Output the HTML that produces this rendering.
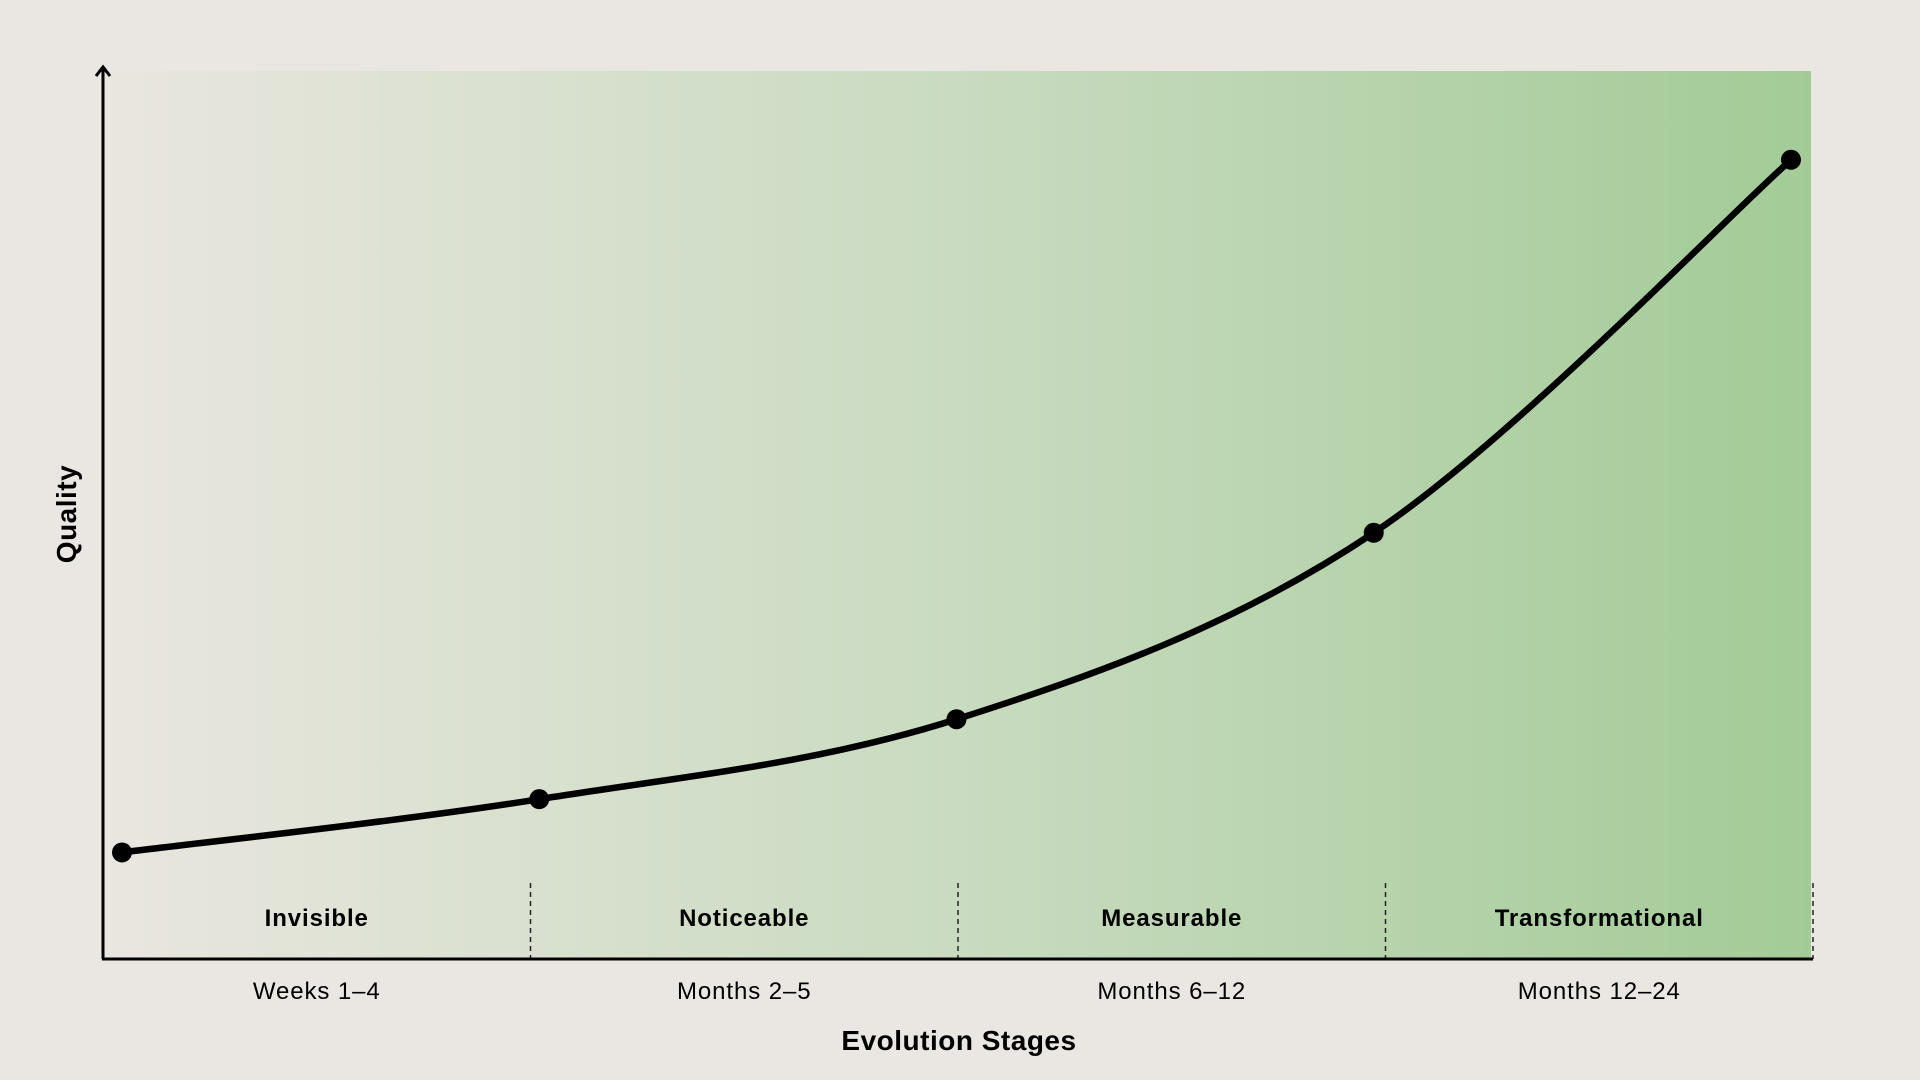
<!DOCTYPE html>
<html><head><meta charset="utf-8"><style>
html,body{margin:0;padding:0;background:#eae7e2;}
svg{display:block;font-family:"Liberation Sans",sans-serif;}
</style></head><body>
<svg id="chart" width="1920" height="1080" viewBox="0 0 1920 1080" xmlns="http://www.w3.org/2000/svg">
<defs><linearGradient id="bgGrad" x1="0" x2="1" y1="0" y2="0">
<stop offset="0" stop-color="#e9e6df"/><stop offset="0.5" stop-color="#c9dbc0"/><stop offset="1" stop-color="#a3cb97"/></linearGradient></defs>
<rect x="103" y="71" width="1708" height="888" fill="url(#bgGrad)"/>
<g id="marks"></g>
<line x1="103" y1="959" x2="103" y2="68" stroke="#000" stroke-width="3"/>
<path d="M96,76 L103,67 L110,76" fill="none" stroke="#000" stroke-width="3"/>
<line x1="102" y1="959" x2="1813" y2="959" stroke="#000" stroke-width="3"/>
<text transform="translate(76,514) rotate(-90)" text-anchor="middle" font-size="28" font-weight="bold" letter-spacing="0.5">Quality</text>
<text x="959" y="1050" text-anchor="middle" font-size="28" font-weight="bold" letter-spacing="0.5">Evolution Stages</text>
</svg>
<script>
const stages = ["Invisible", "Noticeable", "Measurable", "Transformational"];
const periods = ["Weeks 1–4", "Months 2–5", "Months 6–12", "Months 12–24"];
const pointIndex = [0, 1, 2, 3, 4];
const qualityValues = [12, 18, 27, 48, 90];

const svg = document.getElementById('chart');
const g = document.getElementById('marks');
const NS = 'http://www.w3.org/2000/svg';
const xBandStart = 103, xBandEnd = 1813;
const bandW = (xBandEnd - xBandStart) / stages.length;
function xPoint(i) { return 122 + i * (1791 - 122) / (pointIndex.length - 1); }
function yScale(v) { return 959 - v * 8.88; }

stages.forEach((s, i) => {
  const x1 = xBandStart + bandW * (i + 1);
  const dl = document.createElementNS(NS, 'line');
  
  
  dl.setAttribute('x1', x1); dl.setAttribute('x2', x1);
  dl.setAttribute('y1', 883); dl.setAttribute('y2', 959);
  dl.setAttribute('stroke', '#222'); dl.setAttribute('stroke-width', '1.5');
  dl.setAttribute('stroke-dasharray', '5,4');
  g.appendChild(dl);
  const cx = xBandStart + bandW * (i + 0.5);
  const t = document.createElementNS(NS, 'text');
  
  
  t.setAttribute('x', cx); t.setAttribute('y', 926);
  t.setAttribute('text-anchor', 'middle'); t.setAttribute('font-size', '24'); t.setAttribute('font-weight', 'bold');
  t.setAttribute('letter-spacing', '0.9');
  t.textContent = s;
  g.appendChild(t);
  const p = document.createElementNS(NS, 'text');
  
  
  p.setAttribute('x', cx); p.setAttribute('y', 999);
  p.setAttribute('text-anchor', 'middle'); p.setAttribute('font-size', '24');
  p.setAttribute('letter-spacing', '0.9');
  p.textContent = periods[i];
  g.appendChild(p);
});

const pts = pointIndex.map((d, i) => [xPoint(d), yScale(qualityValues[i])]);
let d = 'M' + pts[0][0] + ',' + pts[0][1];
for (let i = 0; i < pts.length - 1; i++) {
  const p0 = pts[Math.max(i - 1, 0)], p1 = pts[i], p2 = pts[i + 1], p3 = pts[Math.min(i + 2, pts.length - 1)];
  const c1x = p1[0] + (p2[0] - p0[0]) / 6, c1y = p1[1] + (p2[1] - p0[1]) / 6;
  const c2x = p2[0] - (p3[0] - p1[0]) / 6, c2y = p2[1] - (p3[1] - p1[1]) / 6;
  d += ' C' + c1x + ',' + c1y + ' ' + c2x + ',' + c2y + ' ' + p2[0] + ',' + p2[1];
}
const path = document.createElementNS(NS, 'path');


path.setAttribute('d', d); path.setAttribute('fill', 'none');
path.setAttribute('stroke', '#000'); path.setAttribute('stroke-width', '6.5');
g.appendChild(path);
pts.forEach(p => {
  const c = document.createElementNS(NS, 'circle');
  
  
  c.setAttribute('cx', p[0]); c.setAttribute('cy', p[1]); c.setAttribute('r', 10);
  c.setAttribute('fill', '#000');
  g.appendChild(c);
});
</script>
</body></html>
